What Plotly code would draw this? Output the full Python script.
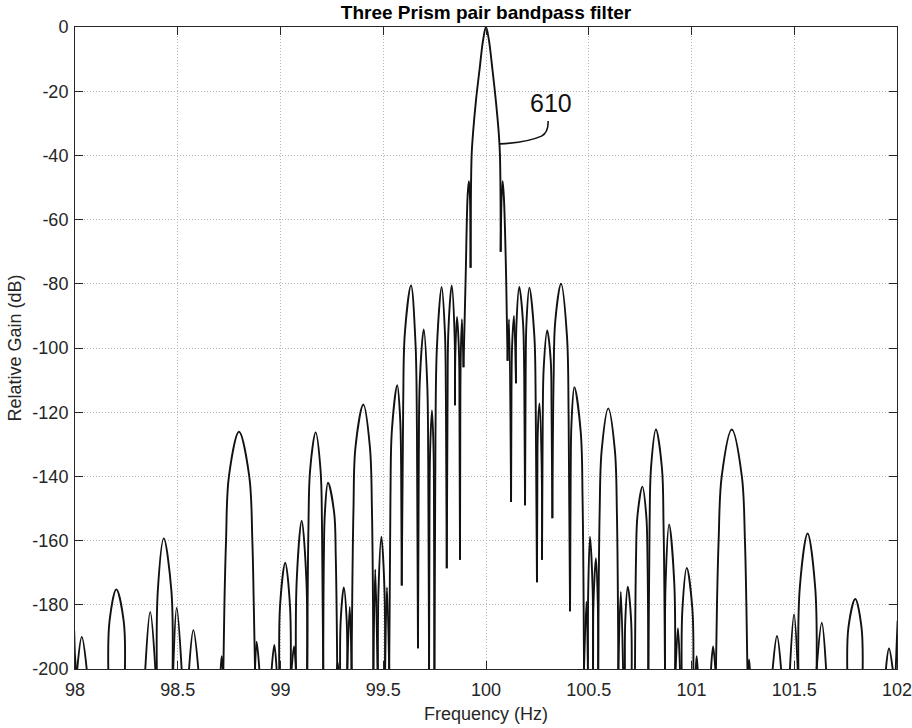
import plotly.graph_objects as go

# Filter response, lobe by lobe: each lobe is a list of (frequency Hz, gain dB)
# points running null -> shoulder -> peak -> shoulder -> null.
outer_left_lobes = [
    [(97.996, -188), (98.0, -196), (98.005, -200)],
    [(98.011, -200), (98.033, -190), (98.057, -200)],
    [(98.162, -200), (98.168, -185.1), (98.201, -175.2), (98.237, -185.1), (98.243, -200)],
    [(98.342, -200), (98.366, -182.2), (98.391, -200)],
    [(98.398, -200), (98.403, -175.6), (98.432, -159.3), (98.469, -175.6), (98.475, -200)],
    [(98.478, -200), (98.495, -180.9), (98.519, -200)],
    [(98.555, -200), (98.576, -187.9), (98.600, -200)],
    [(98.709, -200), (98.714, -196), (98.720, -200)],
    [(98.722, -200), (98.727, -180), (98.735, -160), (98.749, -140), (98.798, -126.1),
     (98.848, -140), (98.863, -160), (98.870, -180), (98.876, -200)],
    [(98.876, -200), (98.884, -191.5), (98.897, -200)],
    [(98.957, -200), (98.970, -192.5), (98.981, -200)],
    [(98.994, -200), (98.998, -180.1), (99.023, -166.9), (99.046, -180.1), (99.050, -200)],
    [(99.054, -200), (99.066, -193), (99.075, -200)],
    [(99.075, -200), (99.079, -172.3), (99.103, -153.8), (99.126, -172.3), (99.130, -200)],
    [(99.130, -200), (99.136, -155.8), (99.144, -138.1), (99.171, -126.3), (99.195, -138.1),
     (99.202, -155.8), (99.208, -200)],
    [(99.208, -200), (99.211, -165.2), (99.216, -151.3), (99.231, -142.0), (99.261, -151.3),
     (99.269, -165.2), (99.276, -200)],
    [(99.275, -200), (99.278, -198), (99.281, -200)],
    [(99.290, -200), (99.293, -184.8), (99.308, -174.6), (99.322, -184.8), (99.325, -200)],
    [(99.325, -200), (99.337, -180.6), (99.346, -200)],
    [(99.346, -200), (99.355, -150.6), (99.365, -130.8), (99.403, -117.6), (99.435, -130.8),
     (99.445, -150.6), (99.452, -200)],
    [(99.452, -200), (99.461, -169.0), (99.472, -200)],
    [(99.474, -200), (99.477, -175.3), (99.491, -158.8), (99.506, -175.3), (99.509, -200)],
    [(99.509, -200), (99.518, -174.6), (99.529, -200)],
]

inner_left_lobes = [
    [(99.529, -200), (99.535, -147.0), (99.542, -125.7), (99.568, -111.6), (99.582, -121.6),
     (99.587, -136.6), (99.590, -174)],
    [(99.590, -174), (99.597, -117.9), (99.605, -95.5), (99.635, -80.5), (99.657, -98.6),
     (99.664, -125.7), (99.669, -193.5)],
    [(99.669, -193.5), (99.673, -133.9), (99.678, -110.1), (99.697, -94.2), (99.714, -111.1),
     (99.719, -136.5), (99.723, -200)],
    [(99.723, -200), (99.725, -151.6), (99.728, -132.3), (99.737, -119.4), (99.745, -132.3),
     (99.747, -151.6), (99.749, -200)],
    [(99.749, -200), (99.754, -128.6), (99.761, -100.0), (99.784, -81.0), (99.800, -95.0),
     (99.805, -116.0), (99.809, -168.6)],
    [(99.809, -168.6), (99.813, -115.7), (99.817, -94.6), (99.833, -80.5), (99.847, -95.4),
     (99.849, -117.8)],
    [(99.849, -117.8), (99.851, -101.3), (99.859, -90.3), (99.869, -102.4), (99.871, -120.6),
     (99.8735, -166)],
    [(99.8735, -166), (99.875, -121), (99.877, -103), (99.883, -91), (99.8905, -106)],
    [(99.8905, -106), (99.901, -78), (99.911, -52), (99.917, -48), (99.922, -53), (99.925, -75)],
]

main_lobe = [
    [(99.925, -75), (99.930, -40), (99.937, -33), (99.951, -23), (99.970, -12.5), (99.986, -4),
     (100.0, 0), (100.014, -4), (100.030, -12.5), (100.048, -23), (100.062, -33),
     (100.068, -40), (100.0715, -70)],
]

inner_right_lobes = [
    [(100.0715, -70), (100.0765, -52), (100.081, -48), (100.087, -53), (100.098, -78),
     (100.105, -104)],
    [(100.105, -104), (100.112, -91), (100.122, -148)],
    [(100.122, -148), (100.124, -113.2), (100.127, -99.3), (100.136, -90), (100.146, -111)],
    [(100.146, -111), (100.148, -93), (100.162, -81), (100.180, -91.9), (100.186, -108.2),
     (100.190, -149)],
    [(100.190, -149), (100.193, -108.3), (100.197, -92.0), (100.211, -81.2), (100.235, -95.9),
     (100.242, -117.9), (100.248, -173)],
    [(100.248, -173), (100.250, -139.6), (100.252, -126.2), (100.260, -117.3), (100.271, -136.8),
     (100.2725, -166)],
    [(100.2725, -166), (100.276, -123.1), (100.281, -105.9), (100.298, -94.5), (100.315, -103.9),
     (100.319, -117.9), (100.323, -153)],
    [(100.323, -153), (100.329, -109.2), (100.337, -91.7), (100.365, -80), (100.394, -96.3),
     (100.402, -120.8), (100.409, -182)],
    [(100.409, -182), (100.412, -140.1), (100.416, -123.4), (100.430, -112.2), (100.461, -126.2),
     (100.470, -147.3), (100.477, -200)],
]

outer_right_lobes = [
    [(100.477, -200), (100.489, -179), (100.496, -200)],
    [(100.496, -200), (100.4975, -175.3), (100.506, -158.8), (100.519, -175.3), (100.521, -200)],
    [(100.521, -200), (100.523, -179.3), (100.535, -165.5), (100.544, -179.3), (100.546, -200)],
    [(100.546, -200), (100.553, -151.3), (100.563, -131.8), (100.595, -118.8), (100.627, -131.8),
     (100.637, -151.3), (100.644, -200)],
    [(100.644, -200), (100.656, -176), (100.667, -200)],
    [(100.676, -200), (100.678, -184.6), (100.690, -174.4), (100.706, -184.6), (100.709, -200)],
    [(100.725, -200), (100.730, -165.9), (100.737, -152.3), (100.761, -143.2), (100.780, -152.3),
     (100.786, -165.9), (100.790, -200)],
    [(100.790, -200), (100.796, -155.2), (100.803, -137.3), (100.827, -125.4), (100.856, -137.3),
     (100.864, -155.2), (100.871, -200)],
    [(100.871, -200), (100.874, -173), (100.891, -155), (100.916, -173), (100.920, -200)],
    [(100.923, -200), (100.934, -187.3), (100.944, -200)],
    [(100.952, -200), (100.956, -181.1), (100.977, -168.5), (101.004, -181.1), (101.009, -200)],
    [(101.021, -200), (101.025, -196), (101.030, -200)],
    [(101.095, -200), (101.105, -193), (101.116, -200)],
    [(101.119, -200), (101.124, -180), (101.132, -160), (101.147, -140), (101.196, -125.4),
     (101.245, -140), (101.260, -160), (101.267, -180), (101.272, -200)],
    [(101.276, -200), (101.280, -197), (101.284, -200)],
    [(101.395, -200), (101.416, -189.7), (101.436, -200)],
    [(101.479, -200), (101.499, -183), (101.517, -200)],
    [(101.520, -200), (101.527, -174.7), (101.565, -157.8), (101.602, -174.7), (101.609, -200)],
    [(101.609, -200), (101.634, -185.6), (101.655, -200)],
    [(101.758, -200), (101.764, -186.9), (101.797, -178.2), (101.827, -186.9), (101.833, -200)],
    [(101.946, -200), (101.961, -193.6), (101.979, -200)],
    [(101.994, -200), (101.998, -193), (102.003, -185)],
]

x_ticks = [98, 98.5, 99, 99.5, 100, 100.5, 101, 101.5, 102]
x_tick_labels = ["98", "98.5", "99", "99.5", "100", "100.5", "101", "101.5", "102"]
y_ticks = [-200, -180, -160, -140, -120, -100, -80, -60, -40, -20, 0]
y_tick_labels = ["-200", "-180", "-160", "-140", "-120", "-100", "-80", "-60", "-40", "-20", "0"]

title_text = "Three Prism pair bandpass filter"
x_title = "Frequency (Hz)"
y_title = "Relative Gain (dB)"
callout_text = "610"

# Join every lobe into one trace; None breaks the line between lobes so each
# lobe is smoothed on its own.
freq, gain = [], []
for group in (outer_left_lobes, inner_left_lobes, main_lobe, inner_right_lobes, outer_right_lobes):
    for lobe in group:
        for f, g in lobe:
            freq.append(f)
            gain.append(g)
        freq.append(None)
        gain.append(None)

FONT = "Liberation Sans, Arial, Helvetica, sans-serif"
INK = "#262626"

fig = go.Figure()
fig.add_trace(go.Scatter(
    x=freq, y=gain, mode="lines",
    line=dict(color="#111111", width=1.9, shape="spline", smoothing=1.0),
    connectgaps=False, hoverinfo="skip", showlegend=False,
))

axis_common = dict(
    automargin=False, ticklabeloverflow="allow",
    showline=True, linecolor=INK, linewidth=1, mirror="ticks",
    ticks="inside", ticklen=8, tickwidth=1, tickcolor=INK,
    showgrid=True, gridcolor="#b4b4b4", gridwidth=1, griddash="1px,2px",
    zeroline=False,
    tickfont=dict(family=FONT, size=18, color=INK),
)

fig.update_xaxes(
    range=[98, 102], tickvals=x_ticks, ticktext=x_tick_labels, ticklabelstandoff=4,
    title=dict(text=x_title, font=dict(family=FONT, size=18, color=INK), standoff=8),
    **axis_common,
)
fig.update_yaxes(
    range=[-200, 0], tickvals=y_ticks, ticktext=y_tick_labels, ticklabelstandoff=2,
    title=dict(text=y_title, font=dict(family=FONT, size=18, color=INK), standoff=6),
    **axis_common,
)

# Callout label with its curved leader touching the main lobe.
fig.add_annotation(
    x=100.316, y=-23.7, xref="x", yref="y", text=callout_text, showarrow=False,
    font=dict(family=FONT, size=25, color="#111111"), xanchor="center", yanchor="middle",
)
fig.add_shape(
    type="path", xref="x", yref="y",
    path="M100.068,-36.4 Q100.20,-36.0 100.27,-34.0 Q100.305,-32.8 100.302,-29.3",
    line=dict(color="#111111", width=1.6),
)

fig.update_layout(
    width=912, height=728,
    margin=dict(l=75, r=15, t=27, b=59, autoexpand=False),
    paper_bgcolor="white", plot_bgcolor="white",
    title=dict(
        text="<b>" + title_text + "</b>", x=0.5, xref="paper", xanchor="center",
        y=1 - 12 / 728, yref="container", yanchor="middle",
        font=dict(family=FONT, size=19, color="#000000"),
    ),
    showlegend=False,
)

fig.write_html("out.html")
